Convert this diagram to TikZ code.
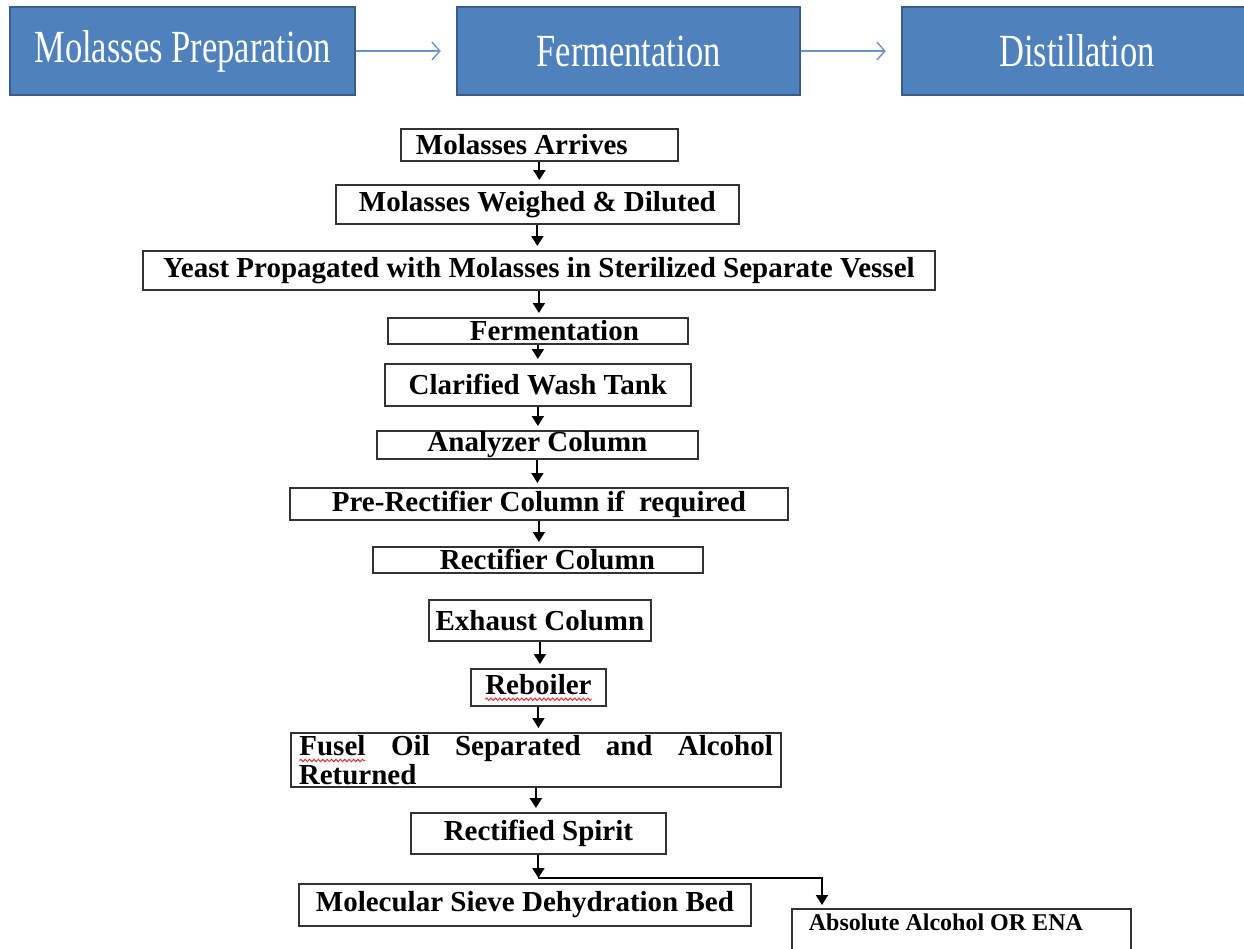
\documentclass[tikz,border=0pt]{standalone}
\usepackage{fontspec}
\setmainfont{Liberation Serif}
\newfontfamily\phasefont[FakeStretch=0.75]{Liberation Serif}
\usepackage{xcolor}
\usepackage{tikz}
\usetikzlibrary{positioning,arrows.meta,calc,decorations.pathmorphing}
\definecolor{phasefill}{HTML}{4F81BD}
\definecolor{phaseedge}{HTML}{385D8A}
\definecolor{phaseline}{HTML}{6C94CA}
\definecolor{stageedge}{HTML}{333333}
\definecolor{spellred}{HTML}{E03030}
\tikzset{
  phase/.style={rectangle, draw=phaseedge, fill=phasefill, line width=1.2pt, text=white, font=\phasefont\fontsize{23}{27}\selectfont, minimum height=44pt, inner sep=2pt},
  phaseflow/.style={-{Straight Barb[length=4pt, width=9pt]}, line width=0.7pt, color=phaseline, shorten >=7.5pt},
  stage/.style={rectangle, draw=stageedge, fill=white, line width=0.9pt, anchor=north west, inner xsep=2pt, inner ysep=0pt, font=\bfseries\fontsize{14.5}{15}\selectfont},
  flow/.style={-{Triangle[length=5pt, width=6pt]}, line width=0.95pt, color=black, shorten >=2pt}
}
% red wavy underline of the spell checker
\newcommand{\spellmark}[1]{\tikz[baseline=(sw.base)]{\node[inner sep=0pt, outer sep=0pt, minimum width=0pt, minimum height=0pt, text width={}, draw=none, fill=none, anchor=base] (sw) {#1};
  \draw[spellred, line width=0.5pt, decorate, decoration={snake, amplitude=0.6pt, segment length=2.2pt}] ([yshift=-2.6pt]sw.base west) -- ([yshift=-2.6pt]sw.base east);}}

\begin{document}
\begin{tikzpicture}[x=0.5pt, y=-0.5pt]
\path[use as bounding box, fill=white] (0,0) rectangle (1244,949);
% the three phases
\node[phase, minimum width=172.5pt] (prep) at (182.5,51) {Molasses Preparation};
\node[phase, minimum width=171.5pt] (fermph) at (628.5,51) {Fermentation};
\node[phase, minimum width=175pt] (distph) at (1077,51) {Distillation};
\draw[phaseflow] (prep) -- (fermph);
\draw[phaseflow] (fermph) -- (distph);
% process steps
\node[stage, text width=123.5pt, inner xsep=7.5pt, align=flush left, minimum height=16pt] (arrive) at (400,128) {Molasses Arrives};
\node[stage, minimum width=201.5pt, minimum height=19.5pt] (weigh) at (335,184) {Molasses Weighed \& Diluted};
\node[stage, minimum width=396pt, minimum height=19.5pt] (yeast) at (142,250) {Yeast Propagated with Molasses in Sterilized Separate Vessel};
\node[stage, text width=101pt, inner xsep=24.5pt, align=flush right, minimum height=13pt] (ferment) at (387,317) {Fermentation};
\node[stage, minimum width=153pt, minimum height=21pt] (wash) at (384,363) {Clarified Wash Tank};
\node[stage, minimum width=160.5pt, minimum height=14pt] (analyzer) at (376,430) {Analyzer Column};
\node[stage, minimum width=249pt, minimum height=16pt] (prerect) at (289,487) {Pre-Rectifier Column if\ \ required};
\node[stage, text width=117pt, inner xsep=24pt, align=flush right, minimum height=13pt] (rectifier) at (372,546) {Rectifier Column};
\node[stage, minimum width=111pt, minimum height=20.5pt] (exhaust) at (428,599) {Exhaust Column};
\node[stage, minimum width=67.5pt, minimum height=18.5pt] (reboiler) at (470,668) {\spellmark{Reboiler}};
\node[stage, text width=237pt, inner xsep=4pt, align=justify, minimum height=27pt, font=\bfseries\fontsize{14.5}{13.5}\selectfont] (fusel) at (290,732) {\spellmark{Fusel} Oil Separated and Alcohol\linebreak Returned};
\node[stage, minimum width=127.5pt, minimum height=20.5pt] (spirit) at (410,812) {Rectified Spirit};
\node[stage, minimum width=226pt, minimum height=21pt] (sieve) at (298,883) {Molecular Sieve Dehydration Bed};
\node[stage, text width=152.5pt, inner xsep=8.5pt, align=flush left, text height=11pt, text depth=14pt, font=\bfseries\fontsize{12}{14}\selectfont] (absolute) at (791,908) {Absolute Alcohol OR ENA};
% connectors
\draw[flow] (arrive.south) -- (arrive.south |- weigh.north);
\draw[flow] (weigh.south) -- (weigh.south |- yeast.north);
\draw[flow] (yeast.south) -- (yeast.south |- ferment.north);
\draw[flow] (ferment.south) -- (ferment.south |- wash.north);
\draw[flow] (wash.south) -- (wash.south |- analyzer.north);
\draw[flow] (analyzer.south) -- (analyzer.south |- prerect.north);
\draw[flow] (prerect.south) -- (prerect.south |- rectifier.north);
\draw[flow] (exhaust.south) -- (exhaust.south |- reboiler.north);
\draw[flow] (reboiler.south) -- (reboiler.south |- fusel.north);
\draw[flow] (fusel.south) -- (fusel.south |- spirit.north);
\coordinate (split) at ($(spirit.south |- sieve.north)+(0pt,2.5pt)$);
\draw[flow, shorten >=0pt] (spirit.south) -- (split);
\draw[flow, shorten >=1.5pt] (split) -| ($(absolute.north west)+(15.5pt,0pt)$);
\end{tikzpicture}
\end{document}
